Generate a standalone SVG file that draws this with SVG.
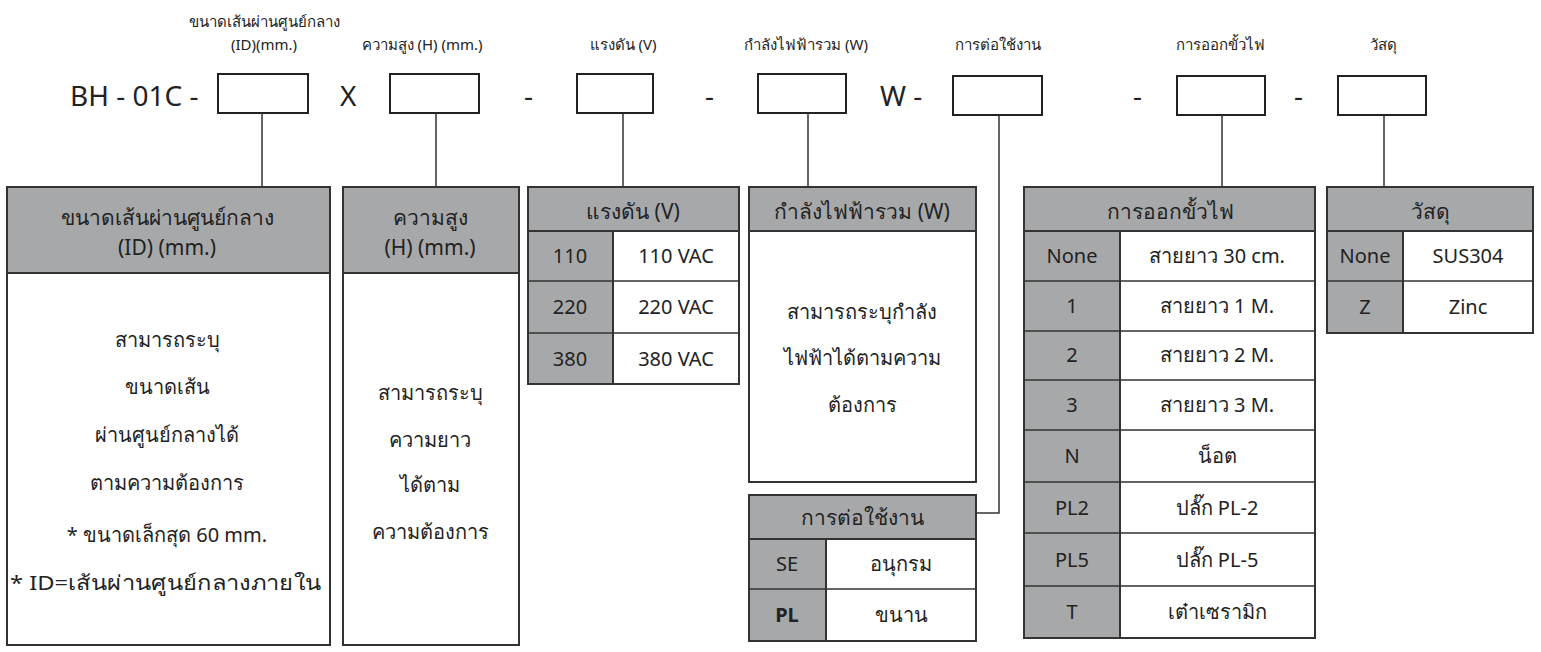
<svg xmlns="http://www.w3.org/2000/svg" width="1541" height="652" viewBox="0 0 1541 652">
<style>
text{font-family:"Noto Sans","DejaVu Sans",sans-serif;fill:#222;text-anchor:middle}
.lab{font-size:15px}
.big{font-size:28px;text-anchor:start}
.h{font-size:21px}
.t{font-size:20px}
.box{fill:#fff;stroke:#222;stroke-width:2}
.g{fill:#a7a8aa;stroke:#333;stroke-width:2}
.w{fill:#fff;stroke:#333;stroke-width:2}
.ln{stroke:#333;stroke-width:1.5;fill:none}
</style>
<rect width="1541" height="652" fill="#fff"/>
<g id="code">
<text class="lab" x="264" y="27">ขนาดเส้นผ่านศูนย์กลาง</text>
<text class="lab" x="264" y="50">(ID)(mm.)</text>
<text class="lab" x="422" y="50">ความสูง (H) (mm.)</text>
<text class="lab" x="623" y="50">แรงดัน (V)</text>
<text class="lab" x="806" y="50">กำลังไฟฟ้ารวม (W)</text>
<text class="lab" x="998" y="50">การต่อใช้งาน</text>
<text class="lab" x="1220" y="50">การออกขั้วไฟ</text>
<text class="lab" x="1383" y="50">วัสดุ</text>
<text class="big" x="70" y="106">BH - 01C -</text>
<text class="big" x="340" y="106">X</text>
<text class="big" x="524" y="106">-</text>
<text class="big" x="705" y="106">-</text>
<text class="big" x="880" y="106">W -</text>
<text class="big" x="1133" y="106">-</text>
<text class="big" x="1294" y="106">-</text>
<rect class="box" x="218" y="74" width="90" height="39"/>
<rect class="box" x="390" y="74" width="89" height="39"/>
<rect class="box" x="577" y="74" width="76" height="39"/>
<rect class="box" x="758" y="74" width="88" height="39"/>
<rect class="box" x="953" y="76" width="89" height="39"/>
<rect class="box" x="1177" y="76" width="88" height="39"/>
<rect class="box" x="1338" y="76" width="88" height="39"/>
</g>
<g id="connectors">
<path class="ln" d="M262 113V187M436 113V187M623 113V187M808 113V187M999 115V513H976M1222 115V187M1384 115V187"/>
</g>
<g id="panel-id">
<rect class="g" x="7" y="187" width="323" height="86"/>
<rect class="w" x="7" y="273" width="323" height="372"/>
<text class="h" x="167" y="225">ขนาดเส้นผ่านศูนย์กลาง</text>
<text class="h" x="167" y="255">(ID) (mm.)</text>
<text class="t" x="167" y="347">สามารถระบุ</text>
<text class="t" x="167" y="394">ขนาดเส้น</text>
<text class="t" x="167" y="442">ผ่านศูนย์กลางได้</text>
<text class="t" x="167" y="490">ตามความต้องการ</text>
<text class="t" x="167" y="542">*  ขนาดเล็กสุด 60 mm.</text>
<text class="t" x="166" y="590" textLength="312" lengthAdjust="spacingAndGlyphs">* ID=เส้นผ่านศูนย์กลางภายใน</text>
</g>
<g id="panel-h">
<rect class="g" x="343" y="187" width="176" height="86"/>
<rect class="w" x="343" y="273" width="176" height="372"/>
<text class="h" x="430" y="225">ความสูง</text>
<text class="h" x="430" y="255">(H) (mm.)</text>
<text class="t" x="430" y="400">สามารถระบุ</text>
<text class="t" x="430" y="447">ความยาว</text>
<text class="t" x="430" y="492">ได้ตาม</text>
<text class="t" x="430" y="539">ความต้องการ</text>
</g>
<g id="panel-v">
<rect class="g" x="528" y="187" width="211" height="44"/>
<rect class="g" x="528" y="231" width="85" height="153"/>
<rect class="w" x="613" y="231" width="126" height="153"/>
<path class="ln" d="M528 281H739M528 333H739" stroke-width="2"/>
<text class="h" x="633" y="219">แรงดัน (V)</text>
<text class="t" x="570" y="263">110</text><text class="t" x="676" y="263">110 VAC</text>
<text class="t" x="570" y="314">220</text><text class="t" x="676" y="314">220 VAC</text>
<text class="t" x="570" y="366">380</text><text class="t" x="676" y="366">380 VAC</text>
</g>
<g id="panel-w">
<rect class="g" x="749" y="187" width="227" height="44"/>
<rect class="w" x="749" y="231" width="227" height="251"/>
<text class="h" x="862" y="219">กำลังไฟฟ้ารวม (W)</text>
<text class="t" x="862" y="319">สามารถระบุกำลัง</text>
<text class="t" x="862" y="365">ไฟฟ้าได้ตามความ</text>
<text class="t" x="862" y="412">ต้องการ</text>
</g>
<g id="panel-conn">
<rect class="g" x="749" y="495" width="227" height="44"/>
<rect class="g" x="749" y="539" width="77" height="102"/>
<rect class="w" x="826" y="539" width="150" height="102"/>
<path class="ln" d="M749 589H976" stroke-width="2"/>
<text class="h" x="862" y="525">การต่อใช้งาน</text>
<text class="t" x="787" y="571">SE</text><text class="t" x="901" y="571">อนุกรม</text>
<text class="t" x="787" y="622" font-weight="bold">PL</text><text class="t" x="901" y="622">ขนาน</text>
</g>
<g id="panel-term">
<rect class="g" x="1024" y="187" width="291" height="44"/>
<rect class="g" x="1024" y="231" width="96" height="407"/>
<rect class="w" x="1120" y="231" width="195" height="407"/>
<path class="ln" d="M1024 281H1315M1024 331H1315M1024 380H1315M1024 430H1315M1024 482H1315M1024 533H1315M1024 586H1315" stroke-width="2"/>
<text class="h" x="1170" y="219">การออกขั้วไฟ</text>
<text class="t" x="1072" y="263">None</text><text class="t" x="1217" y="263">สายยาว 30 cm.</text>
<text class="t" x="1072" y="313">1</text><text class="t" x="1217" y="313">สายยาว 1 M.</text>
<text class="t" x="1072" y="362">2</text><text class="t" x="1217" y="362">สายยาว 2 M.</text>
<text class="t" x="1072" y="412">3</text><text class="t" x="1217" y="412">สายยาว 3 M.</text>
<text class="t" x="1072" y="463">N</text><text class="t" x="1217" y="463">น็อต</text>
<text class="t" x="1072" y="515">PL2</text><text class="t" x="1217" y="515">ปลั๊ก PL-2</text>
<text class="t" x="1072" y="567">PL5</text><text class="t" x="1217" y="567">ปลั๊ก PL-5</text>
<text class="t" x="1072" y="619">T</text><text class="t" x="1217" y="619">เต๋าเซรามิก</text>
</g>
<g id="panel-mat">
<rect class="g" x="1327" y="187" width="206" height="44"/>
<rect class="g" x="1327" y="231" width="76" height="102"/>
<rect class="w" x="1403" y="231" width="130" height="102"/>
<path class="ln" d="M1327 281H1533" stroke-width="2"/>
<text class="h" x="1430" y="219">วัสดุ</text>
<text class="t" x="1365" y="263">None</text><text class="t" x="1468" y="263">SUS304</text>
<text class="t" x="1365" y="314">Z</text><text class="t" x="1468" y="314">Zinc</text>
</g>
</svg>
